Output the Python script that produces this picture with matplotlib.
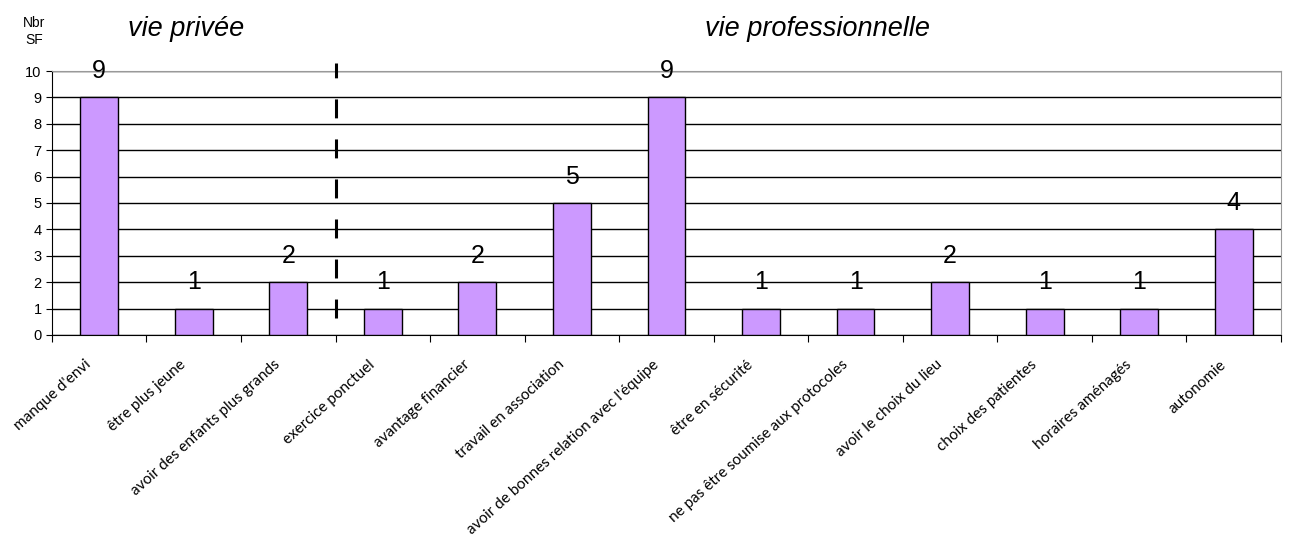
import matplotlib
matplotlib.use("Agg")
import matplotlib.pyplot as plt
from matplotlib.transforms import ScaledTranslation
import numpy as np

categories = ["manque d'envi", "être plus jeune", "avoir des enfants plus grands",
              "exercice ponctuel", "avantage financier", "travail en association",
              "avoir de bonnes relation avec l'équipe", "être en sécurité",
              "ne pas être soumise aux protocoles", "avoir le choix du lieu",
              "choix des patientes", "horaires aménagés", "autonomie"]
values = [9, 1, 2, 1, 2, 5, 9, 1, 1, 2, 1, 1, 4]
separator = 2.5  # between vie privée / vie professionnelle

plt.rcParams['font.family'] = ['Liberation Sans', 'DejaVu Sans']

fig = plt.figure(figsize=(12.89, 5.56), dpi=100)
ax = fig.add_axes([0.0403, 0.3975, 0.9535, 0.4748])

x = np.arange(len(categories))
ax.bar(x, values, width=0.4, color='#CC99FF', edgecolor='black', linewidth=1, zorder=3)

for xi, v in zip(x, values):
    ax.text(xi, v + 1, str(v), ha='center', va='center', fontsize=18, zorder=4)

ax.set_xlim(-0.5, len(categories) - 0.5)
ax.set_ylim(0, 10)
ax.set_yticks(range(0, 11))
ax.tick_params(axis='y', labelsize=10.5, length=4, direction='out')
ax.yaxis.grid(True, color='black', linewidth=1, zorder=0)
ax.set_axisbelow(True)

ax.set_xticks(np.arange(-0.5, len(categories), 1), minor=False)
ax.set_xticklabels([])
ax.tick_params(axis='x', length=5, direction='out')
ax.set_xticks(x, minor=True)
ax.set_xticklabels(categories, minor=True, rotation=42, ha='right', va='center',
                   rotation_mode='anchor', fontsize=11, family=['Lato', 'DejaVu Sans'])
ax.tick_params(axis='x', which='minor', length=0, pad=20)
shift = ScaledTranslation(-10 / 100, 0, fig.dpi_scale_trans)
for lab in ax.get_xticklabels(minor=True):
    lab.set_transform(lab.get_transform() + shift)

for s in ['top', 'right']:
    ax.spines[s].set_color('#999999')
ax.spines['left'].set_color('black')
ax.spines['bottom'].set_color('black')

# dashed separator
ax.plot([separator, separator], [0.65, 10.3], color='black', linewidth=2.2,
        linestyle=(0, (6.2, 6.9)), clip_on=False, zorder=5)

fig.text(0.0265, 0.958, "Nbr", ha='center', va='center', fontsize=10)
fig.text(0.0265, 0.928, "SF", ha='center', va='center', fontsize=10)
fig.text(0.1445, 0.948, "vie privée", ha='center', va='center', fontsize=19.5, style='italic')
fig.text(0.634, 0.948, "vie professionnelle", ha='center', va='center', fontsize=19.5, style='italic')

fig.savefig("out.png", dpi=100)
